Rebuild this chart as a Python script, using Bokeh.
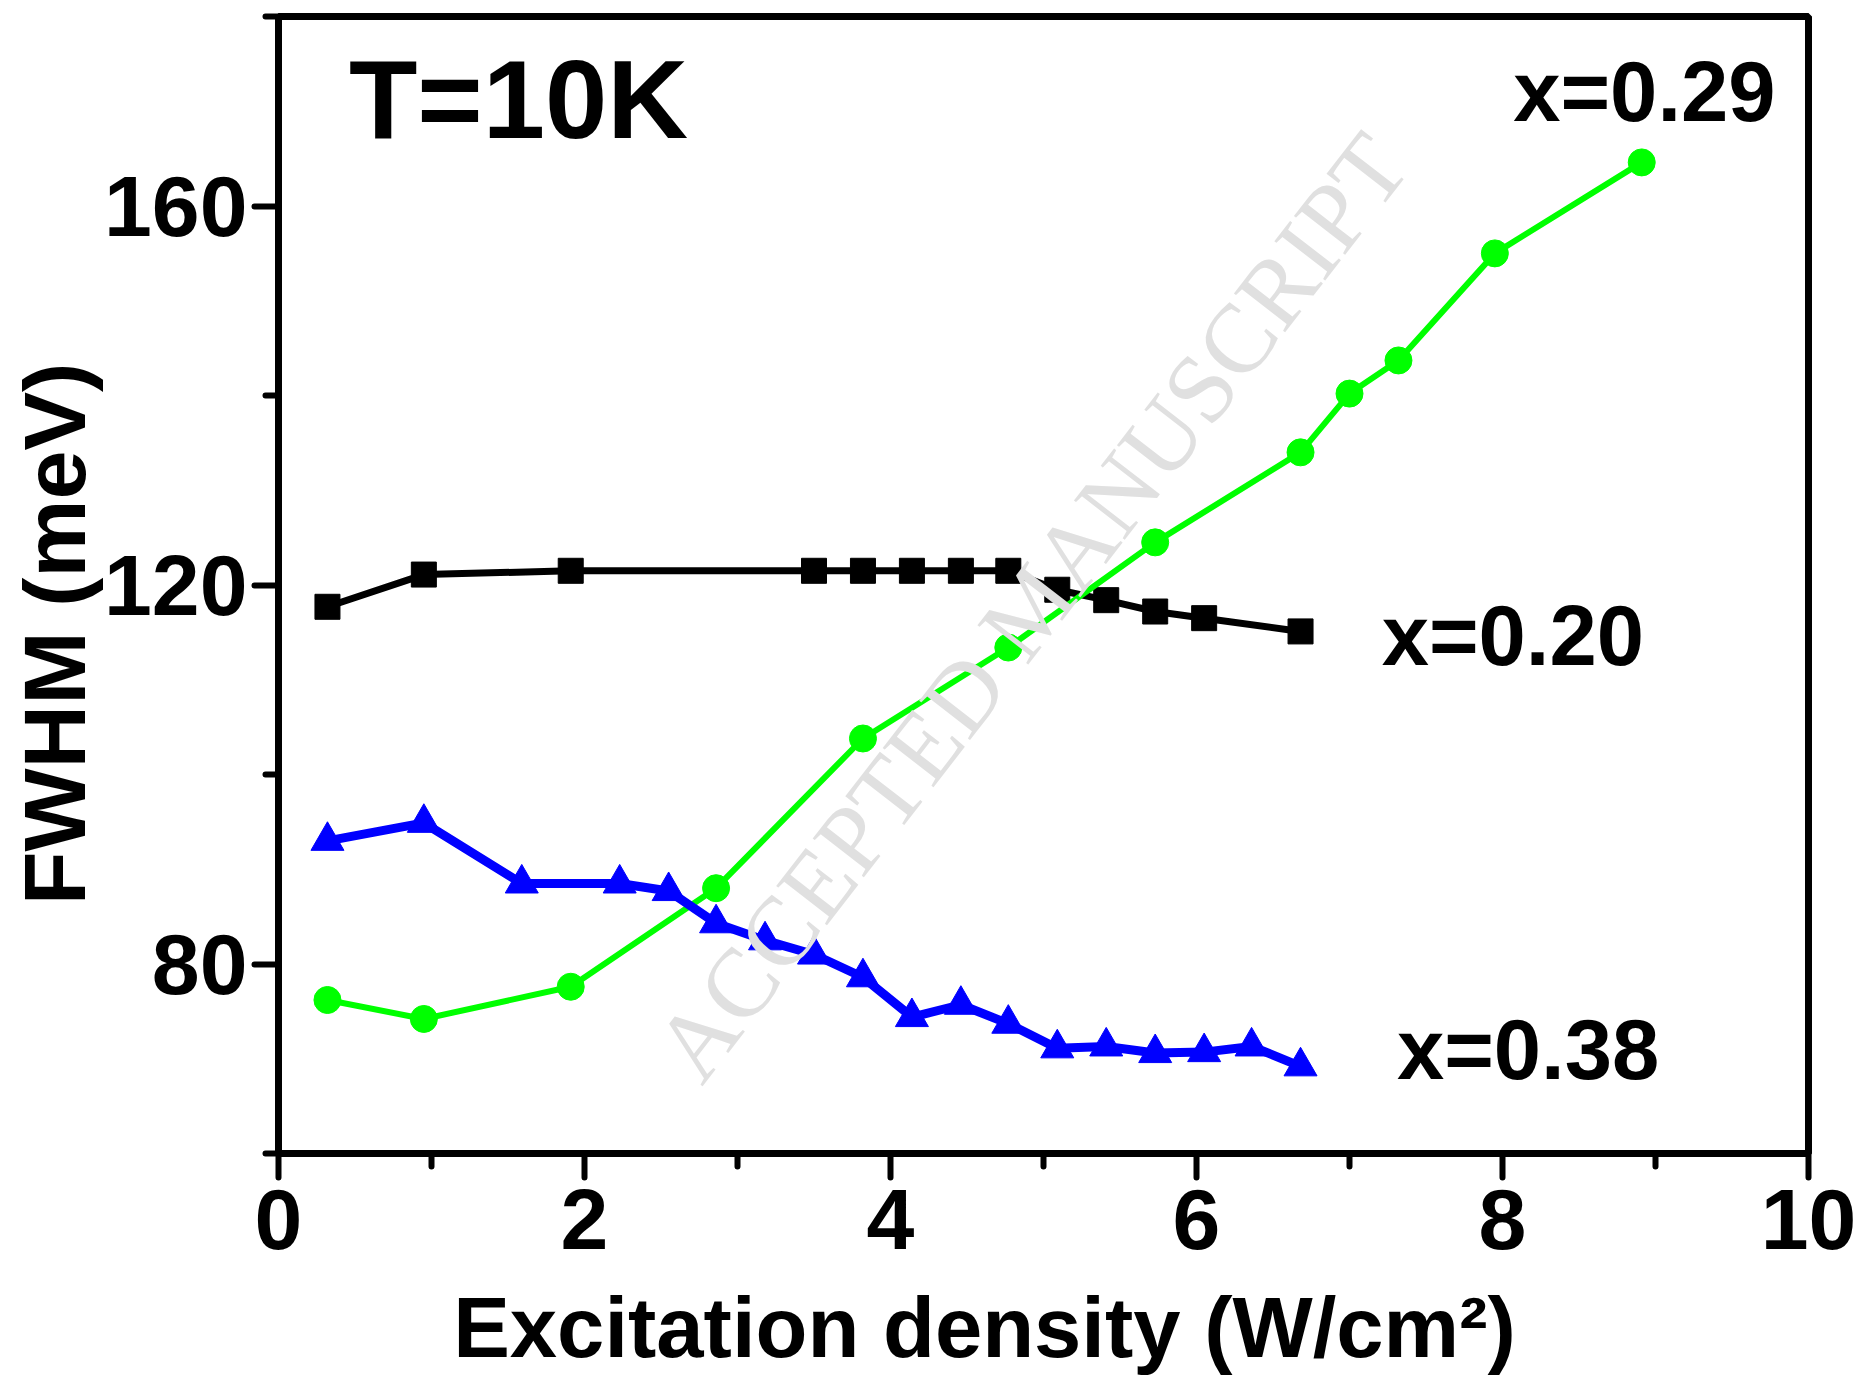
import math
from bokeh.plotting import figure
from bokeh.models import Range1d, Label, FixedTicker
from bokeh.embed import file_html
from bokeh.resources import INLINE

# ---- data ----
x_020 = [0.32, 0.95, 1.91, 3.50, 3.82, 4.14, 4.46, 4.77, 5.09, 5.41, 5.73, 6.05, 6.68]
y_020 = [117.7, 121.1, 121.5, 121.5, 121.5, 121.5, 121.5, 121.5, 119.5, 118.4, 117.2, 116.5, 115.1]

x_029 = [0.32, 0.95, 1.91, 2.86, 3.82, 4.77, 5.73, 6.68, 7.00, 7.32, 7.95, 8.91]
y_029 = [76.2, 74.2, 77.6, 88.0, 103.8, 113.4, 124.5, 134.0, 140.2, 143.7, 155.0, 164.6]

x_038 = [0.32, 0.95, 1.59, 2.23, 2.55, 2.86, 3.18, 3.50, 3.82, 4.14, 4.46, 4.77,
         5.09, 5.41, 5.73, 6.05, 6.36, 6.68]
y_038 = [93.0, 94.9, 88.5, 88.5, 87.7, 84.3, 82.5, 81.0, 78.6, 74.4, 75.7, 73.7,
         71.1, 71.3, 70.6, 70.7, 71.3, 69.2]

x_ticks = [0, 2, 4, 6, 8, 10]
x_minor = [1, 3, 5, 7, 9]
y_ticks = [80, 120, 160]
y_minor = [60, 100, 140, 180]

FONT = "Liberation Sans"
NBSP = "\u00a0"

p = figure(frame_width=1530, frame_height=1137,
           x_range=Range1d(0, 10), y_range=Range1d(60, 180),
           output_backend="svg", toolbar_location=None,
           min_border_left=278, min_border_right=50, min_border_top=16, min_border_bottom=10)
p.grid.visible = False
p.outline_line_color = "black"
p.outline_line_width = 7
p.background_fill_color = "white"

def style_axis(ax, ticks, minors):
    ax.ticker = FixedTicker(ticks=ticks, minor_ticks=minors)
    ax.axis_line_width = 7
    ax.axis_line_color = "black"
    ax.major_tick_line_width = 6
    ax.minor_tick_line_width = 6
    ax.major_tick_line_cap = "round"
    ax.minor_tick_line_cap = "round"
    ax.major_tick_in = 0
    ax.minor_tick_in = 0
    ax.major_tick_out = 24
    ax.minor_tick_out = 13
    ax.major_label_text_font = FONT
    ax.major_label_text_font_style = "bold"
    ax.major_label_text_font_size = "86px"
    ax.major_label_text_color = "black"
    ax.axis_label_text_font = FONT
    ax.axis_label_text_font_style = "bold"
    ax.axis_label_text_color = "black"
    ax.axis_label_text_line_height = 1.0

xa = p.xaxis[0]
style_axis(xa, x_ticks, x_minor)
xa.major_label_standoff = 12
xa.axis_label = "Excitation density (W/cm²)" + NBSP * 5
xa.axis_label_text_font_size = "85px"
xa.axis_label_standoff = 28

ya = p.yaxis[0]
style_axis(ya, y_ticks, y_minor)
ya.major_label_standoff = 7
ya.axis_label = "FWHM (meV)" + NBSP * 4
ya.axis_label_text_font_size = "88px"
ya.axis_label_standoff = -3

# watermark
p.add_layout(Label(x=4.92, y=117.7, text="ACCEPTED MANUSCRIPT", angle=math.radians(52.3),
                   text_font="Liberation Serif", text_font_size="98px", text_color="#e0e0e0",
                   text_align="center", text_baseline="middle"))

# series
p.line(x_020, y_020, line_color="black", line_width=7)
p.scatter(x_020, y_020, marker="square", size=25, fill_color="black", line_color="black")

p.line(x_029, y_029, line_color="#00ff00", line_width=6)
p.scatter(x_029, y_029, marker="circle", size=27, fill_color="#00ff00", line_color="#00ff00")

p.line(x_038, y_038, line_color="#0000ff", line_width=9)
p.scatter(x_038, y_038, marker="triangle", size=33, fill_color="#0000ff", line_color="#0000ff")

def add_label(x, y, t, size):
    p.add_layout(Label(x=x, y=y, text=t, text_font=FONT, text_font_style="bold",
                       text_font_size=size, text_color="black",
                       text_align="left", text_baseline="alphabetic"))

add_label(0.46, 171.2, "T=10K", "112px")
add_label(8.07, 172.1, "x=0.29", "85px")
add_label(7.21, 114.7, "x=0.20", "85px")
add_label(7.31, 71.0, "x=0.38", "85px")

open("out.html", "w").write(file_html(p, INLINE))
